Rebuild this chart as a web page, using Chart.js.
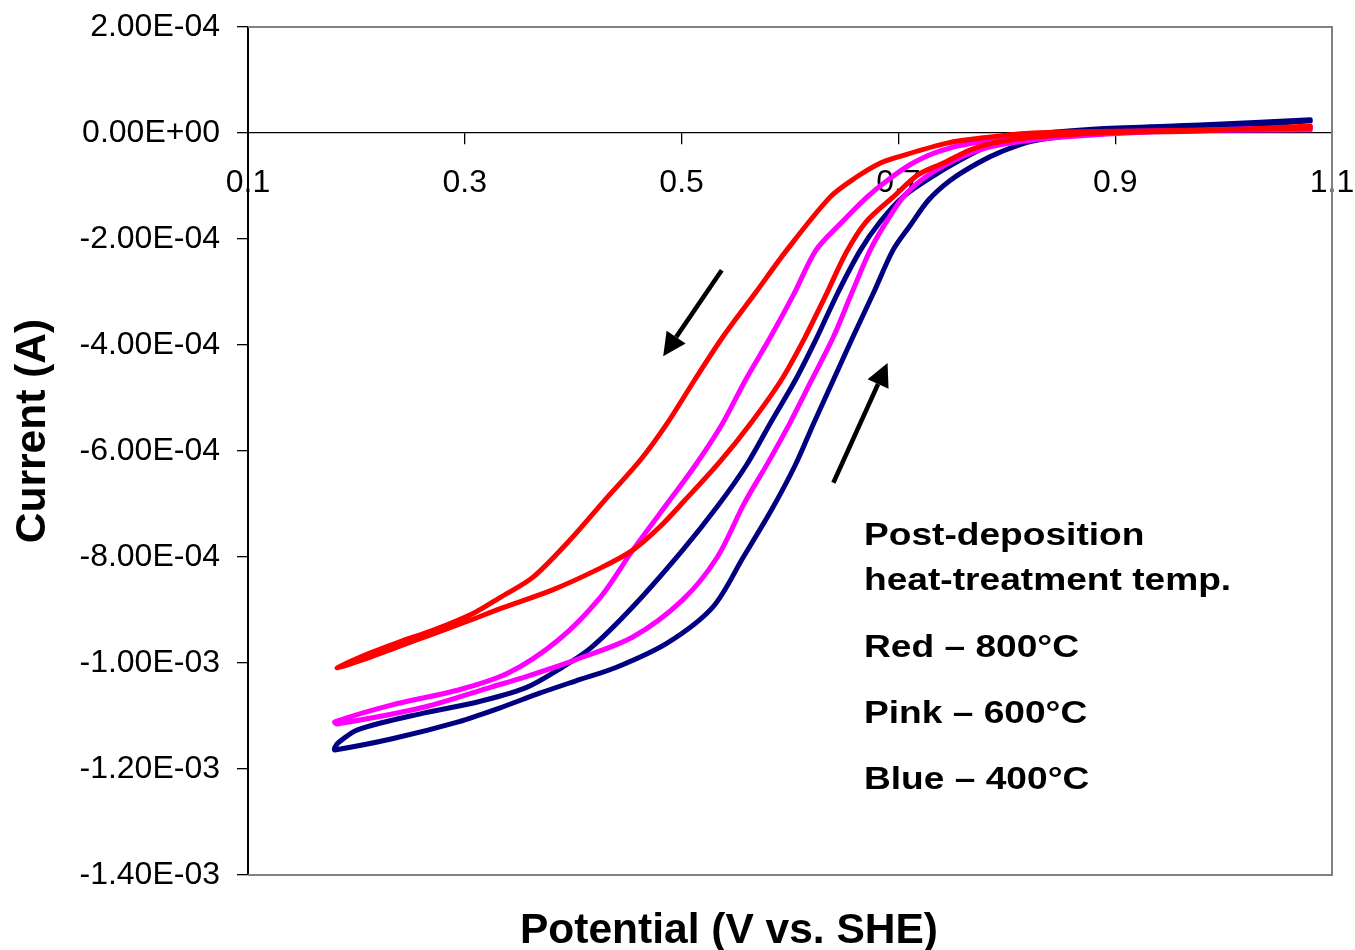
<!DOCTYPE html>
<html>
<head>
<meta charset="utf-8">
<title>Current vs potential</title>
<script src="https://cdn.jsdelivr.net/npm/chart.js@4.4.1/dist/chart.umd.min.js"></script>
<style>
  html, body { margin: 0; padding: 0; background: #fff; overflow: hidden; }
  canvas { display: block; }
</style>
</head>
<body>
<canvas id="cv-chart" width="1355" height="950"></canvas>
<script>
'use strict';

// Potential (V vs. SHE) and current (A) for each loop: cathodic sweep from 1.08 V down, then back up.
const redPotential = [1.080, 0.932, 0.824, 0.783, 0.745, 0.700, 0.683, 0.660, 0.637, 0.597, 0.568, 0.538,
    0.512, 0.487, 0.462, 0.429, 0.397, 0.363, 0.332, 0.308, 0.271, 0.240, 0.213, 0.182,
    0.213, 0.240, 0.271, 0.308, 0.332, 0.381, 0.425, 0.455, 0.480, 0.503, 0.535, 0.564, 0.592,
    0.614, 0.634, 0.652, 0.670, 0.695, 0.718, 0.741, 0.766, 0.787, 0.824, 0.886, 0.978, 1.080];
const redCurrent = [0.09e-4, 0.04e-4, 0, -0.08e-4, -0.19e-4, -0.45e-4, -0.57e-4, -0.85e-4, -1.21e-4, -2.21e-4, -3.02e-4, -3.85e-4,
    -4.66e-4, -5.47e-4, -6.17e-4, -6.93e-4, -7.68e-4, -8.38e-4, -8.77e-4, -9.06e-4, -9.38e-4, -9.60e-4, -9.81e-4, -10.09e-4,
    -9.89e-4, -9.68e-4, -9.45e-4, -9.17e-4, -8.98e-4, -8.62e-4, -8.21e-4, -7.87e-4, -7.43e-4, -6.93e-4, -6.21e-4, -5.47e-4, -4.66e-4,
    -3.85e-4, -3.02e-4, -2.25e-4, -1.68e-4, -1.21e-4, -0.79e-4, -0.57e-4, -0.32e-4, -0.19e-4, -0.08e-4, 0, 0.04e-4, 0.13e-4];

const pinkPotential = [1.080, 0.932, 0.840, 0.769, 0.738, 0.713, 0.690, 0.671, 0.648, 0.624, 0.604, 0.582,
    0.559, 0.538, 0.513, 0.489, 0.455, 0.425, 0.386, 0.340, 0.294, 0.233, 0.180,
    0.182, 0.263, 0.325, 0.356, 0.402, 0.455, 0.501, 0.533, 0.558, 0.580, 0.600, 0.620, 0.640,
    0.657, 0.674, 0.690, 0.706, 0.725, 0.748, 0.775, 0.803, 0.849, 0.932, 1.080];
const pinkCurrent = [0.06e-4, 0.04e-4, -0.02e-4, -0.19e-4, -0.34e-4, -0.57e-4, -0.89e-4, -1.21e-4, -1.68e-4, -2.21e-4, -3.02e-4, -3.85e-4,
    -4.66e-4, -5.47e-4, -6.26e-4, -6.93e-4, -7.87e-4, -8.76e-4, -9.57e-4, -10.19e-4, -10.51e-4, -10.79e-4, -11.11e-4,
    -11.15e-4, -10.83e-4, -10.45e-4, -10.26e-4, -9.94e-4, -9.51e-4, -8.81e-4, -8.00e-4, -6.98e-4, -6.21e-4, -5.47e-4, -4.66e-4, -3.85e-4,
    -3.02e-4, -2.21e-4, -1.64e-4, -1.17e-4, -0.83e-4, -0.55e-4, -0.32e-4, -0.19e-4, -0.08e-4, 0.02e-4, 0.11e-4];

const bluePotential = [1.080, 0.978, 0.886, 0.821, 0.785, 0.757, 0.729, 0.704, 0.683, 0.665, 0.644, 0.625,
    0.605, 0.582, 0.560, 0.534, 0.501, 0.455, 0.416, 0.386, 0.356, 0.309, 0.263, 0.201, 0.183, 0.180,
    0.180, 0.233, 0.294, 0.332, 0.369, 0.402, 0.440, 0.487, 0.529, 0.557, 0.583, 0.605, 0.622,
    0.640, 0.658, 0.677, 0.695, 0.711, 0.728, 0.748, 0.773, 0.794, 0.824, 0.886, 0.978, 1.080];
const blueCurrent = [0.25e-4, 0.15e-4, 0.08e-4, -0.04e-4, -0.23e-4, -0.51e-4, -0.85e-4, -1.21e-4, -1.68e-4, -2.21e-4, -3.02e-4, -3.85e-4,
    -4.66e-4, -5.47e-4, -6.26e-4, -7.02e-4, -7.87e-4, -8.94e-4, -9.72e-4, -10.13e-4, -10.47e-4, -10.75e-4, -10.94e-4, -11.26e-4, -11.51e-4, -11.60e-4,
    -11.64e-4, -11.43e-4, -11.11e-4, -10.85e-4, -10.57e-4, -10.34e-4, -10.08e-4, -9.62e-4, -8.94e-4, -8.00e-4, -7.11e-4, -6.26e-4, -5.47e-4,
    -4.66e-4, -3.85e-4, -3.02e-4, -2.21e-4, -1.74e-4, -1.26e-4, -0.89e-4, -0.57e-4, -0.36e-4, -0.15e-4, 0, 0.08e-4, 0.23e-4];

const xTickValues = [0.1, 0.3, 0.5, 0.7, 0.9, 1.1];
const xTickLabels = ['0.1', '0.3', '0.5', '0.7', '0.9', '1.1'];
const yTickValues = [2e-4, 0, -2e-4, -4e-4, -6e-4, -8e-4, -1e-3, -1.2e-3, -1.4e-3];
const yTickLabels = ['2.00E-04', '0.00E+00', '-2.00E-04', '-4.00E-04', '-6.00E-04', '-8.00E-04',
    '-1.00E-03', '-1.20E-03', '-1.40E-03'];

const noteLines = ['Post-deposition', 'heat-treatment temp.', 'Red \u2013 800\u00B0C', 'Pink \u2013 600\u00B0C', 'Blue \u2013 400\u00B0C'];
const xTitle = 'Potential (V vs. SHE)';
const yTitle = 'Current (A)';

const FONT = '"Liberation Sans", Arial, sans-serif';

function toPoints(xs, ys) {
    return xs.map((v, i) => ({ x: v, y: ys[i] }));
}

// sweep direction arrows, in data units (potential, current)
const sweepArrows = [
    { from: [0.537, -2.59e-4], to: [0.483, -4.21e-4] },
    { from: [0.640, -6.60e-4], to: [0.690, -4.34e-4] }
];

function drawArrow(ctx, x0, y0, x1, y1) {
    const ang = Math.atan2(y1 - y0, x1 - x0);
    const headLen = 23;
    const headHalf = 11.5;
    const bx = x1 - headLen * Math.cos(ang);
    const by = y1 - headLen * Math.sin(ang);
    ctx.beginPath();
    ctx.moveTo(x0, y0);
    ctx.lineTo(bx, by);
    ctx.stroke();
    ctx.beginPath();
    ctx.moveTo(x1, y1);
    ctx.lineTo(bx + headHalf * Math.sin(ang), by - headHalf * Math.cos(ang));
    ctx.lineTo(bx - headHalf * Math.sin(ang), by + headHalf * Math.cos(ang));
    ctx.closePath();
    ctx.fill();
}

const decorPlugin = {
    id: 'decor',
    beforeDatasetsDraw(chart) {
        const { ctx, chartArea: a } = chart;
        // grey plot-area frame (left side is the value axis)
        ctx.save();
        ctx.strokeStyle = '#808080';
        ctx.lineWidth = 2;
        ctx.beginPath();
        ctx.moveTo(a.left, a.top);
        ctx.lineTo(a.right, a.top);
        ctx.lineTo(a.right, a.bottom);
        ctx.lineTo(a.left, a.bottom);
        ctx.stroke();
        ctx.restore();
    },
    afterDraw(chart) {
        const { ctx } = chart;
        const xs = chart.scales.x;
        const ys = chart.scales.y;

        ctx.save();
        ctx.strokeStyle = '#000';
        ctx.fillStyle = '#000';
        ctx.lineWidth = 4.5;
        sweepArrows.forEach(function (arr) {
            drawArrow(ctx,
                xs.getPixelForValue(arr.from[0]), ys.getPixelForValue(arr.from[1]),
                xs.getPixelForValue(arr.to[0]), ys.getPixelForValue(arr.to[1]));
        });

        // note block, the original text is a little wide
        const baselines = [545, 590, 657, 723, 789];
        ctx.font = 'bold 32px ' + FONT;
        ctx.textAlign = 'left';
        ctx.textBaseline = 'alphabetic';
        noteLines.forEach(function (t, i) {
            ctx.save();
            ctx.translate(864, baselines[i]);
            ctx.scale(1.16, 1);
            ctx.fillText(t, 0, 0);
            ctx.restore();
        });

        // axis titles
        ctx.font = 'bold 42.5px ' + FONT;
        ctx.fillText(xTitle, 520, 943);

        ctx.translate(33, 431);
        ctx.rotate(-Math.PI / 2);
        ctx.textAlign = 'center';
        ctx.textBaseline = 'middle';
        ctx.fillText(yTitle, 0, 0);
        ctx.restore();
    }
};

const ctx = document.getElementById('cv-chart');

const chart = new Chart(ctx, {
    type: 'scatter',
    data: {
        datasets: [{
            label: 'Red \u2013 800\u00B0C',
            data: toPoints(redPotential, redCurrent),
            borderColor: '#ff0000',
            backgroundColor: '#ff0000'
        }, {
            label: 'Pink \u2013 600\u00B0C',
            data: toPoints(pinkPotential, pinkCurrent),
            borderColor: '#ff00ff',
            backgroundColor: '#ff00ff'
        }, {
            label: 'Blue \u2013 400\u00B0C',
            data: toPoints(bluePotential, blueCurrent),
            borderColor: '#000080',
            backgroundColor: '#000080'
        }]
    },
    options: {
        responsive: false,
        animation: false,
        devicePixelRatio: 1,
        showLine: true,
        layout: {
            padding: { top: 27, right: 23, bottom: 75, left: 0 }
        },
        elements: {
            point: { radius: 0, hoverRadius: 0 },
            line: { borderWidth: 5, tension: 0.3, borderJoinStyle: 'round', borderCapStyle: 'round' }
        },
        plugins: {
            legend: { display: false },
            tooltip: { enabled: false }
        },
        scales: {
            x: {
                type: 'linear',
                position: { y: 0 },
                min: 0.1,
                max: 1.1,
                afterBuildTicks: function (scale) {
                    scale.ticks = xTickValues.map(v => ({ value: v }));
                },
                afterFit: function (scale) {
                    scale.paddingLeft = 0;
                    scale.paddingRight = 0;
                },
                ticks: {
                    autoSkip: false,
                    maxRotation: 0,
                    padding: 20,
                    color: '#000',
                    font: { family: FONT, size: 32 },
                    callback: (value, index) => xTickLabels[index]
                },
                grid: { drawOnChartArea: false, drawTicks: true, tickLength: 11, color: '#000', lineWidth: 1.3 },
                border: { color: '#000', width: 1.3 }
            },
            y: {
                type: 'linear',
                position: 'left',
                min: -1.4e-3,
                max: 2e-4,
                afterBuildTicks: function (scale) {
                    scale.ticks = yTickValues.map(v => ({ value: v }));
                },
                afterFit: function (scale) {
                    scale.width = 248;
                    scale.paddingTop = 0;
                    scale.paddingBottom = 0;
                },
                ticks: {
                    padding: 17,
                    color: '#000',
                    font: { family: FONT, size: 32 },
                    callback: (value, index) => yTickLabels[index]
                },
                grid: { drawOnChartArea: false, drawTicks: true, tickLength: 11, color: '#000', lineWidth: 1.3 },
                border: { color: '#000', width: 2 }
            }
        }
    },
    plugins: [decorPlugin]
});
</script>
</body>
</html>
